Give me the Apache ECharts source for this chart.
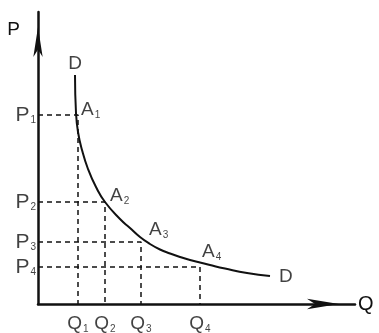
<!DOCTYPE html>
<html>
<head>
<meta charset="utf-8">
<title>需求曲线</title>
<script src="https://cdn.jsdelivr.net/npm/echarts@6/dist/echarts.min.js"></script>
<style>
  html, body { margin: 0; padding: 0; background: #fff; }
  #main { width: 379px; height: 333px; }
</style>
</head>
<body>
<div id="main"></div>
<script>
// demand curve D (Q, P)
var curveQ = [37, 38, 40, 44, 50, 58, 67, 82, 92, 102, 112, 122, 132, 142, 152, 162, 172, 187, 209, 232];
var curveP = [229, 191, 172, 154, 135, 117, 102, 85, 76, 67, 60, 54.5, 50.5, 47, 44, 41.5, 39, 35.5, 31, 28];
// marked points A1..A4
var pointQ = [40, 67, 103, 162];
var pointP = [189, 102, 62, 37];
var qNames = ['Q1', 'Q2', 'Q3', 'Q4'];
var pNames = ['P1', 'P2', 'P3', 'P4'];
var aNames = ['A1', 'A2', 'A3', 'A4'];
var curveName = 'D';

var ink = '#111';
var font = 'Liberation Sans';
function richFor(size) {
    return {
        m: { fontSize: size, color: ink, fontFamily: font },
        s: { fontSize: 10, color: ink, fontFamily: font, verticalAlign: 'bottom', padding: [11, 0, 0, 1] }
    };
}
function sub(name) {
    return name.replace(/^(\D+)(\d*)$/, function (all, a, b) {
        return '{m|' + a + '}' + (b ? '{s|' + b + '}' : '');
    });
}

var curveData = curveQ.map(function (q, i) { return [q, curveP[i]]; });

// dashed guides: P axis -> point -> Q axis
var guideSeries = pointQ.map(function (q, i) {
    return {
        type: 'line',
        data: [[0, pointP[i]], [q, pointP[i]], [q, 0]],
        showSymbol: false,
        silent: true,
        lineStyle: { color: ink, width: 1.5, type: [5, 4] }
    };
});

var aOffsets = [[3, -5], [5, -6], [8, -12], [2, -15]];

var labelSeries = {
    type: 'scatter',
    symbolSize: 0,
    clip: false,
    silent: true,
    data: []
        .concat(pNames.map(function (n, i) {
            return { value: [0, pointP[i]], name: n,
                label: { position: 'left', distance: 2, align: 'right', rich: richFor(21) } };
        }))
        .concat(qNames.map(function (n, i) {
            return { value: [pointQ[i], 0], name: n,
                label: { position: 'bottom', distance: 9, rich: richFor(19) } };
        }))
        .concat(aNames.map(function (n, i) {
            return { value: [pointQ[i], pointP[i]], name: n,
                label: { position: aOffsets[i], align: 'left', verticalAlign: 'middle', rich: richFor(19) } };
        }))
        .concat([
            { value: curveData[0], name: curveName,
              label: { position: [0, -11], align: 'center', verticalAlign: 'middle' } },
            { value: curveData[curveData.length - 1], name: curveName,
              label: { position: [9, 1], align: 'left', verticalAlign: 'middle' } }
        ]),
    label: {
        show: true,
        formatter: function (p) { return sub(p.name); },
        rich: richFor(19)
    }
};

var myChart = echarts.init(document.getElementById('main'));
var option = {
    animation: false,
    grid: { left: 38, right: 24, top: 12, bottom: 29 },
    xAxis: {
        type: 'value', min: 0, max: 317,
        name: 'Q', nameLocation: 'end', nameGap: 3,
        nameTextStyle: { fontSize: 20, color: ink, fontFamily: font, align: 'left', verticalAlign: 'middle' },
        axisLine: { lineStyle: { color: ink, width: 2.5 }, symbol: ['none', 'arrow'], symbolSize: [8, 32], symbolOffset: [0, -16] },
        axisTick: { show: false }, axisLabel: { show: false }, splitLine: { show: false }
    },
    yAxis: {
        type: 'value', min: 0, max: 292,
        name: 'P', nameLocation: 'end', nameGap: -18,
        nameTextStyle: { fontSize: 19, color: ink, fontFamily: font, align: 'right', verticalAlign: 'middle', padding: [0, 18, 0, 0] },
        axisLine: { lineStyle: { color: ink, width: 2.5 }, symbol: ['none', 'arrow'], symbolSize: [7, 30], symbolOffset: [0, -15] },
        axisTick: { show: false }, axisLabel: { show: false }, splitLine: { show: false }
    },
    series: [{
        type: 'line',
        data: curveData,
        smooth: 0.5,
        showSymbol: false,
        lineStyle: { color: ink, width: 2 }
    }].concat(guideSeries).concat([labelSeries])
};
myChart.setOption(option);
</script>
</body>
</html>
